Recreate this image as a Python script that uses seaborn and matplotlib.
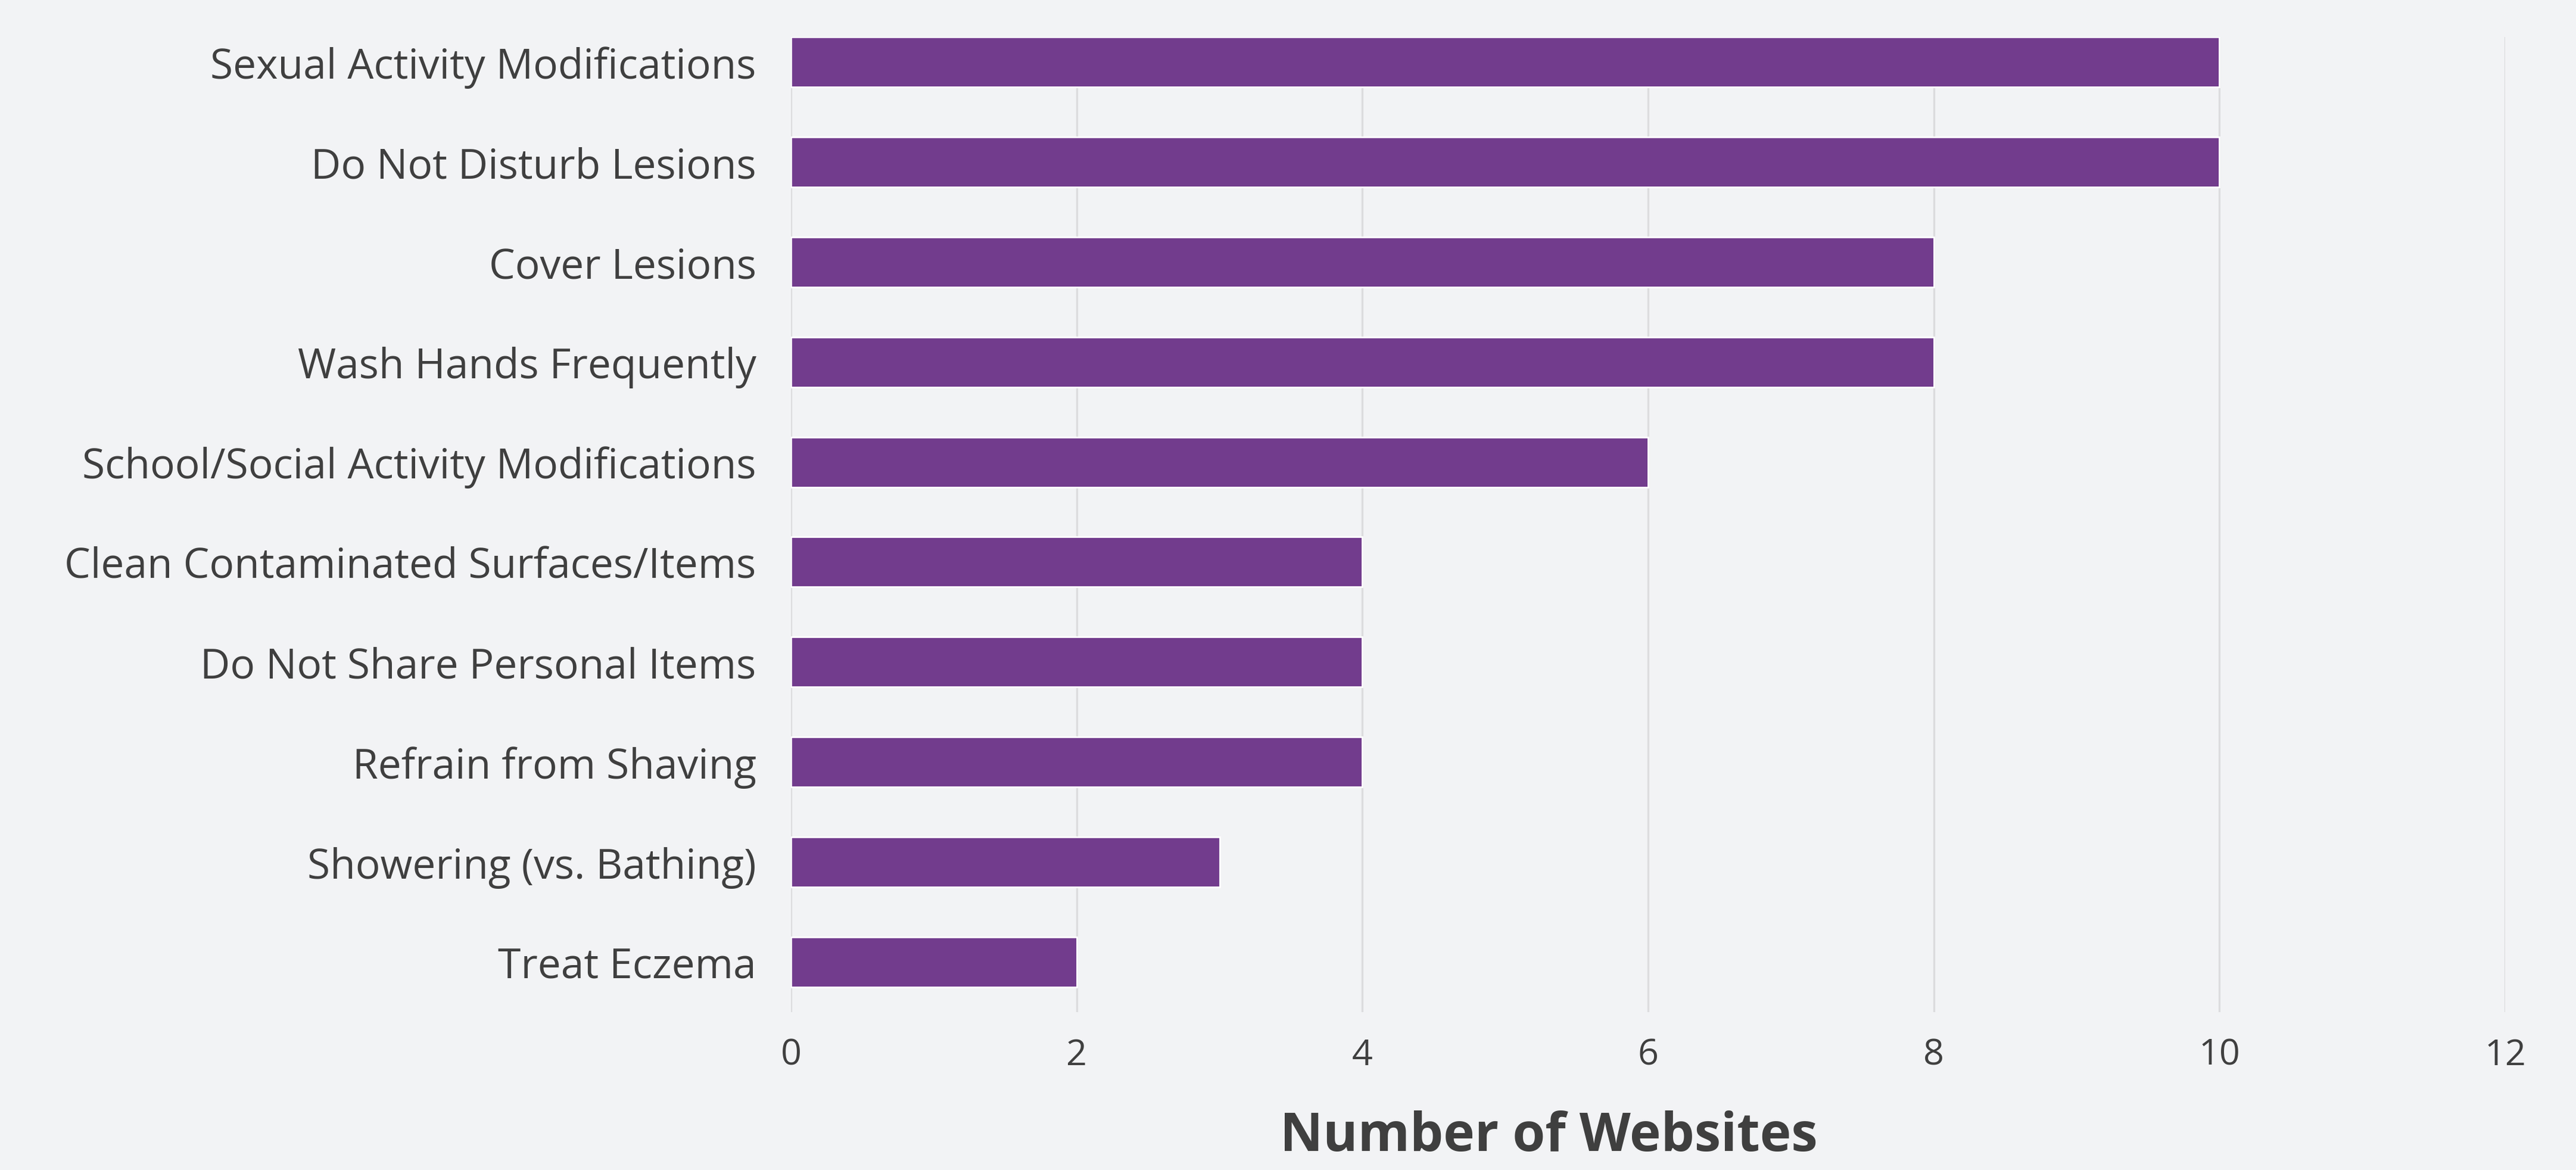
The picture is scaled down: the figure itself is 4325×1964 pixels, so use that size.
import matplotlib
matplotlib.use("Agg")
import matplotlib.pyplot as plt
import seaborn as sns
import pandas as pd

categories = [
    "Sexual Activity Modifications",
    "Do Not Disturb Lesions",
    "Cover Lesions",
    "Wash Hands Frequently",
    "School/Social Activity Modifications",
    "Clean Contaminated Surfaces/Items",
    "Do Not Share Personal Items",
    "Refrain from Shaving",
    "Showering (vs. Bathing)",
    "Treat Eczema",
]
counts = [10, 10, 8, 8, 6, 4, 4, 4, 3, 2]
x_ticks = [0, 2, 4, 6, 8, 10, 12]
x_label = "Number of Websites"

BG = "#F2F3F5"
BAR = "#723C8D"
TXT = "#3F3F3F"
GRID = "#DCDCDE"

sns.set_theme(style="whitegrid")
plt.rcParams["font.family"] = ["Open Sans", "DejaVu Sans"]

df = pd.DataFrame({"category": categories, "count": counts})

W, H, DPI = 4325, 1965, 200
fig = plt.figure(figsize=(W / DPI, H / DPI), dpi=DPI, facecolor=BG)
ax = fig.add_axes([1328 / W, 1 - 1700 / H, (4206 - 1328) / W, (1700 - 63) / H])
ax.set_facecolor(BG)

sns.barplot(data=df, y="category", x="count", orient="h", color=BAR,
            width=0.5, saturation=1, ax=ax, zorder=3)

ax.set_xlim(0, 12)
ax.set_ylim(9.5, -0.25)
ax.set_xticks(x_ticks)
ax.set_xticklabels([str(t) for t in x_ticks])
ax.grid(axis="x", color=GRID, linewidth=1.2, zorder=0)
ax.grid(axis="y", visible=False)
for s in ax.spines.values():
    s.set_visible(False)

ax.tick_params(axis="y", length=0, pad=21, labelsize=25, labelcolor=TXT)
ax.tick_params(axis="x", length=0, pad=15, labelsize=22, labelcolor=TXT)
ax.set_ylabel("")
ax.set_xlabel(x_label, fontsize=32, fontweight="bold", color=TXT)
ax.xaxis.set_label_coords(0.442, -0.1)
for l in ax.get_xticklabels():
    l.set_clip_on(False)

fig.savefig("out.png", dpi=DPI, facecolor=BG)
